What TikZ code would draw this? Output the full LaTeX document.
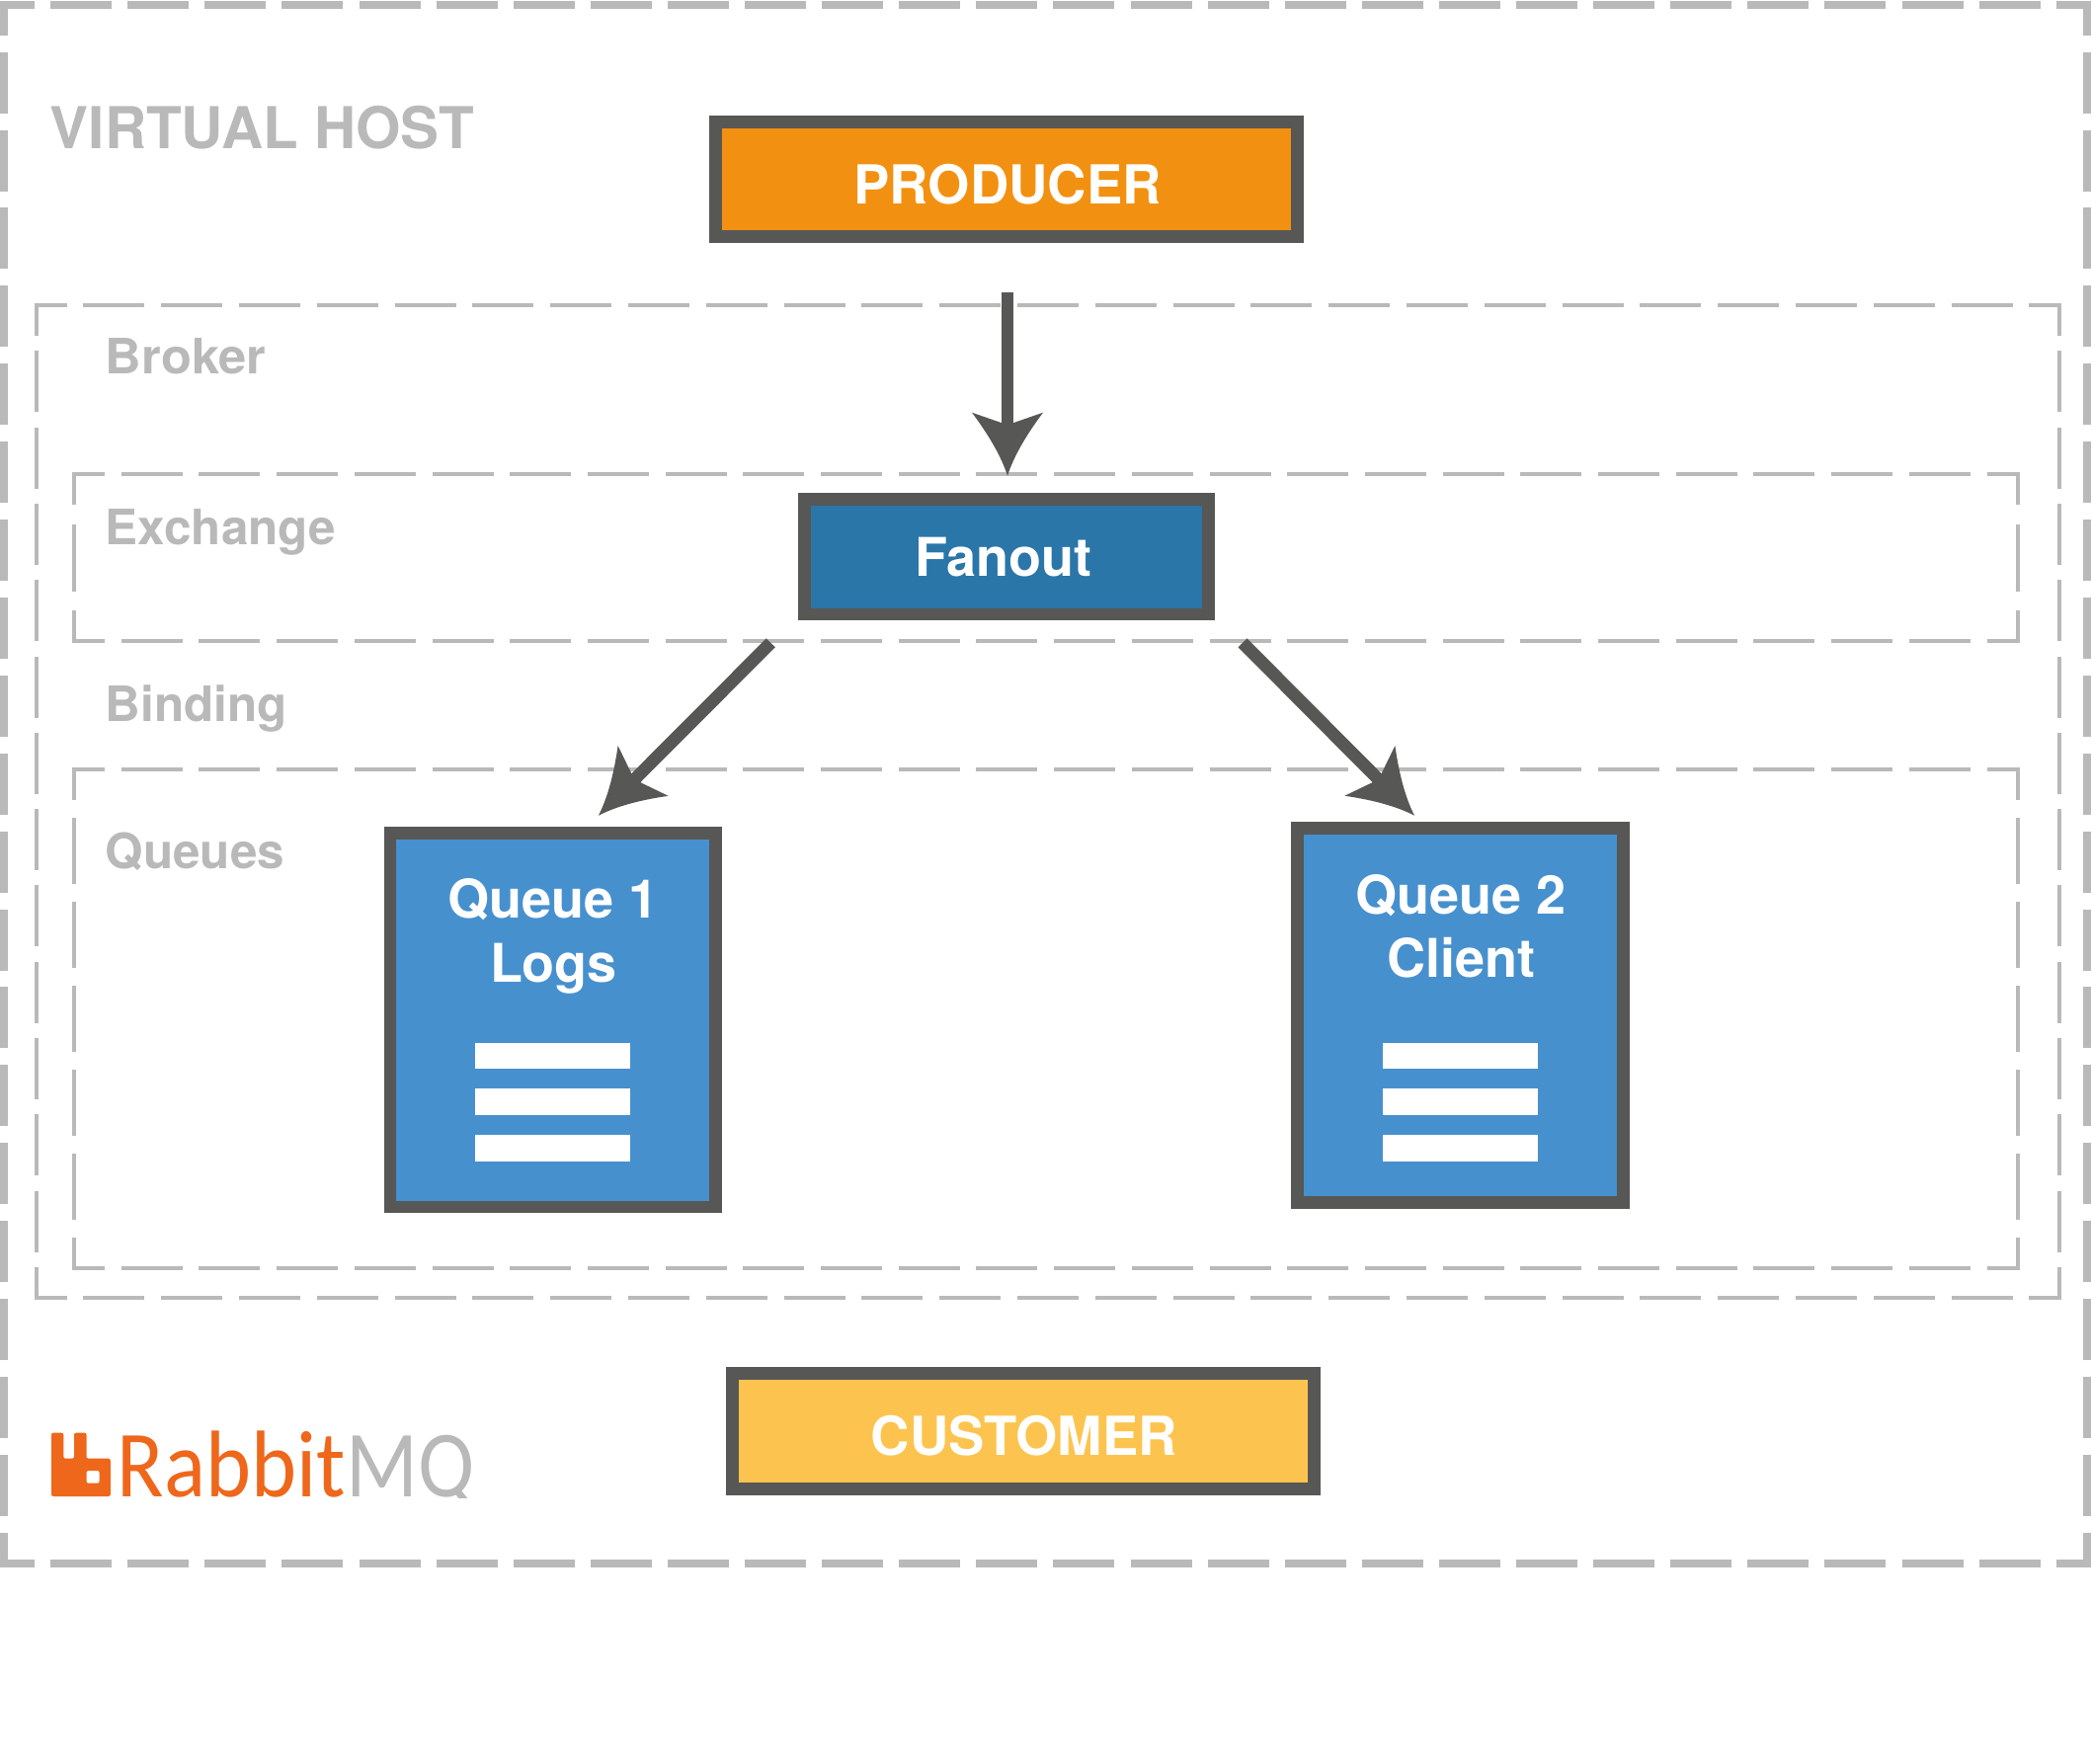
\documentclass[tikz,border=0pt]{standalone}
\usepackage{fontspec}
\usepackage{graphicx}
\setmainfont{TeX Gyre Heros}
\newfontfamily\rmqfont{Carlito}
\definecolor{ardark}{HTML}{575755}
\definecolor{framegray}{HTML}{B9B9B9}
\definecolor{prodorange}{HTML}{F29111}
\definecolor{fanblue}{HTML}{2A76A8}
\definecolor{queueblue}{HTML}{4790CE}
\definecolor{custyellow}{HTML}{FCC44F}
\definecolor{rmqorange}{HTML}{EE671B}
\pgfdeclarearrow{
  name=KiteTip,
  cache=false,
  setup code={
    \pgfarrowssettipend{0pt}
    \pgfarrowssetlineend{-24pt}
    \pgfarrowssetvisualbackend{-24pt}
    \pgfarrowssetbackend{-32pt}
  },
  drawing code={
    \pgfsetfillcolor{ardark}
    \pgfpathmoveto{\pgfqpoint{0pt}{0pt}}
    \pgfpathquadraticcurveto{\pgfqpoint{-14pt}{4.5pt}}{\pgfqpoint{-32pt}{18pt}}
    \pgfpathlineto{\pgfqpoint{-26.85pt}{3.15pt}}
    \pgfpathlineto{\pgfqpoint{-26.85pt}{-3.15pt}}
    \pgfpathlineto{\pgfqpoint{-32pt}{-18pt}}
    \pgfpathquadraticcurveto{\pgfqpoint{-14pt}{-4.5pt}}{\pgfqpoint{0pt}{0pt}}
    \pgfpathclose
    \pgfusepathqfill
  }
}
\tikzset{
  framearea/.style={rectangle,draw=none,inner sep=0pt,outer sep=0pt},
  hostside/.style={draw=framegray,line width=4pt,shorten <=-2pt,shorten >=-2pt},
  thinside/.style={draw=framegray,line width=2pt,shorten <=-1pt,shorten >=-1pt},
  hosth/.style={hostside,dash pattern=on 31pt off 8.05pt,dash phase=13.5pt},
  hostv/.style={hostside,dash pattern=on 31pt off 8.45pt,dash phase=13.5pt},
  brokerh/.style={thinside,dash pattern=on 31pt off 8.4pt,dash phase=14.5pt},
  brokerv/.style={thinside,dash pattern=on 31pt off 7.65pt,dash phase=14.5pt},
  innerh/.style={thinside,dash pattern=on 31pt off 8.35pt,dash phase=14.5pt},
  exchv/.style={thinside,dash pattern=on 34pt off 9.75pt,dash phase=17.5pt},
  queuesv/.style={thinside,dash pattern=on 33.5pt off 9pt,dash phase=17pt},
  boxstyle/.style={rectangle,draw=ardark,line width=6.3pt,inner sep=0pt,text=white,
    font=\bfseries\fontsize{27pt}{32pt}\selectfont},
  widebox/.style={boxstyle,font=\bfseries\fontsize{27.2pt}{32pt}\selectfont},
  boxtext/.style={inner sep=0pt,anchor=base,text=white,font=\bfseries\fontsize{27pt}{32pt}\selectfont},
  framelabel/.style={inner sep=0pt,anchor=base west,text=framegray,font=\bfseries\fontsize{24.7pt}{30pt}\selectfont},
  hostlabel/.style={inner sep=0pt,anchor=base west,text=framegray,font=\bfseries\fontsize{29.2pt}{34pt}\selectfont},
  qbar/.style={rectangle,fill=white,draw=none,inner sep=0pt,outer sep=0pt,minimum width=78.5pt,minimum height=13.3pt},
  conn/.style={draw=ardark,line width=6.35pt,-{KiteTip}},
  logotext/.style={inner sep=0pt,anchor=base west,font=\rmqfont\fontsize{48pt}{52pt}\selectfont}
}
\newcommand{\framesides}[3]{%
  \draw[#2] (#1.north west) -- (#1.north east);
  \draw[#2] (#1.south west) -- (#1.south east);
  \draw[#3] (#1.north west) -- (#1.south west);
  \draw[#3] (#1.north east) -- (#1.south east);
}
\begin{document}
\begin{tikzpicture}[x=0.5pt,y=-0.5pt]
\useasboundingbox (0,0) rectangle (2118,1785);
\fill[white] (0,0) rectangle (2118,1785);

% frames
\node[framearea,minimum width=1054.5pt,minimum height=789.15pt] (vhost) at (1058.5,793.85) {};
\node[framearea,minimum width=1024.25pt,minimum height=502.5pt] (broker) at (1060.75,811.5) {};
\node[framearea,minimum width=984pt,minimum height=84.5pt] (exchange) at (1059,564.5) {};
\node[framearea,minimum width=984pt,minimum height=252.5pt] (queues) at (1059,1031.5) {};
\framesides{vhost}{hosth}{hostv}
\framesides{broker}{brokerh}{brokerv}
\framesides{exchange}{innerh}{exchv}
\framesides{queues}{innerh}{queuesv}

% frame labels
\node[hostlabel] (lvhost) at (50.5,150) {VIRTUAL HOST};
\node[framelabel] (lbroker) at (106.5,378) {\scalebox{1.025}[1]{Broker}};
\node[framelabel] (lexchange) at (106.5,551.5) {Exchange};
\node[framelabel] (lbinding) at (106.5,730) {Binding};
\node[framelabel] (lqueues) at (106.5,879.3) {Queues};

% boxes
\node[widebox,fill=prodorange,minimum width=294.4pt,minimum height=58.05pt,text height=24.3pt,text depth=0pt] (producer) at (1019,181.7) {\hspace*{1pt}PRODUCER};
\node[boxstyle,fill=fanblue,minimum width=204.4pt,minimum height=58.2pt,text height=19.5pt,text depth=0pt] (fanout) at (1019,563.8) {Fanout\hspace*{3.2pt}};
\node[widebox,fill=custyellow,minimum width=294.55pt,minimum height=58.4pt,text height=24pt,text depth=0pt] (customer) at (1035.8,1449) {\hspace*{1pt}CUSTOMER};
\node[boxstyle,fill=queueblue,minimum width=164.7pt,minimum height=189.2pt] (q1) at (559.7,1032.8) {};
\node[boxstyle,fill=queueblue,minimum width=164.9pt,minimum height=189.4pt] (q2) at (1478.5,1028) {};

\node[boxtext] (q1a) at (559.7,929.7) {Queue 1};
\node[boxtext] (q1b) at (560.5,994.3) {Logs};
\node[boxtext] (q2a) at (1479,925) {Queue 2};
\node[boxtext] (q2b) at (1479,989.7) {Client};

\node[qbar] (q1r1) at (559.8,1069) {};
\node[qbar] (q1r2) at (559.8,1115.7) {};
\node[qbar] (q1r3) at (559.8,1162.5) {};
\node[qbar] (q2r1) at (1478.5,1069) {};
\node[qbar] (q2r2) at (1478.5,1115.7) {};
\node[qbar] (q2r3) at (1478.5,1162.5) {};

% connectors
\draw[conn,shorten <=24.85pt,shorten >=8.8pt] ([xshift=0.5pt]producer.south) -- ([xshift=0.5pt]fanout.north);
\draw[conn] ([shift={(-28,22.5)}]fanout.south west) -- ([shift={(-124.8,-11.6)}]q1.north east);
\draw[conn] ([shift={(28.3,22.5)}]fanout.south east) -- ([shift={(124.7,-6.6)}]q2.north west);

% logo
\fill[rmqorange,even odd rule,rounded corners=1pt]
  (52,1515) -- (52,1450.7) -- (64.3,1450.7) -- (64.3,1476.7) -- (75,1476.7) -- (75,1450.7) -- (87.5,1450.7) -- (87.5,1476.7) -- (111.8,1476.7) -- (111.8,1515) -- cycle
  (87.5,1489) -- (100.7,1489) -- (100.7,1501.7) -- (87.5,1501.7) -- cycle;
\node[logotext,text=rmqorange] (lograbbit) at (118.5,1515) {\resizebox{115.5pt}{\height}{Rabbit}};
\begin{scope}
\clip (340,1430) rectangle (500,1516);
\node[logotext,text=framegray] (logmq) at (350,1515) {\resizebox{65pt}{\height}{MQ}};
\end{scope}
\end{tikzpicture}
\end{document}
